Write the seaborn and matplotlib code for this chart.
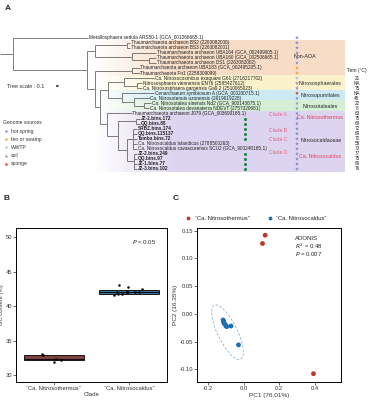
import numpy as np
import pandas as pd
import matplotlib
matplotlib.use("Agg")
import matplotlib.pyplot as plt
import seaborn as sns
from matplotlib.patches import Ellipse
from matplotlib.collections import LineCollection

sns.set_theme(style="white")
plt.rcParams['font.family'] = ['Liberation Sans', 'DejaVu Sans']

# ---------------- data: panel A (tree) ----------------
leaf_labels = [
    "Metallosphaera sedula ARS50-1 (GCA_001266665.1)",
    "Thaumarchaeota archaeon BS2 (2263082000)",
    "Thaumarchaeota archaeon BS3 (2263082001)",
    "Thaumarchaeota archaeon UBA164 (GCA_002499005.1)",
    "Thaumarchaeota archaeon UBA160 (GCA_002506665.1)",
    "Thaumarchaeota archaeon DS1 (2263082002)",
    "Thaumarchaeota archaeon UBA183 (GCA_002495205.1)",
    "Thaumarchaeota Fn1 (2258309099)",
    "Ca. Nitrosocosmicus exaquare G61 (2718217702)",
    "Nitrososphaera viennensis EN76 (2585427612)",
    "Ca. Nitrososphaera gargensis Ga9.2 (2510065023)",
    "Cenarchaeum symbiosum A (GCA_000200715.1)",
    "Ca. Nitrosotenuis uzonensis (2619619228)",
    "Ca. Nitrosotalea sinensis Nd2 (GCA_900143675.1)",
    "Ca. Nitrosotalea devanaterra NDEVT (2757320681)",
    "Thaumarchaeota archaeon J079 (GCA_003690165.1)",
    "JZ-2.bins.172",
    "QQ.bins.88",
    "SRBZ.bins.174",
    "QQ.bins.115137",
    "Tumba.bins.72",
    "Ca. Nitrosocaldus islandicus (2788500263)",
    "Ca. Nitrosocaldus cavascurensis SCU2 (GCA_900248165.1)",
    "JZ-2.bins.249",
    "QQ.bins.97",
    "JZ-1.bins.77",
    "JZ-3.bins.102",
]
leaf_bold = [False]*16 + [True]*5 + [False]*2 + [True]*4
genome_source = (["hot spring"]*6 + ["fen or swamp"]*2 +
                 ["WWTP", "soil", "hot spring", "sponge", "hot spring", "soil", "soil"] +
                 ["hot spring"]*12)
this_study = [False]*16 + [True]*5 + [False]*2 + [True]*4
temperature = [""]*8 + ["21", "NA", "75", "NA", "45", "22", "8",
                        "63", "75", "69", "72", "69", "72", "55", "73", "77", "75", "69", "76"]

# tree: (branch length, leaf index | [children])
tree = (0.16, [
    (0.94, 0),
    (0.925, [
        (0.10, [
            (0.40, [(0.04, 1), (0.04, 2)]),
            (0.46, [(0.31, 3), (0.22, [(0.09, 4), (0.09, 5)])]),
        ]),
        (0.10, [
            (0.46, [(0.10, 6), (0.10, 7)]),
            (0.06, [
                (0.10, [
                    (0.21, [(0.375, 8), (0.16, [(0.06, 9), (0.06, 10)])]),
                    (0.175, [(0.41, 11), (0.16, [(0.19, 12), (0.12, [(0.09, 13), (0.06, 14)])])]),
                ]),
                (0.09, [
                    (0.31, 15),
                    (0.14, [
                        (0.22, [(0.06, 16), (0.06, 17)]),
                        (0.11, [
                            (0.075, [(0.05, 18), (0.05, 19), (0.05, 20), (0.05, 21), (0.05, 22)]),
                            (0.09, [(0.04, 23), (0.04, 24), (0.04, 25), (0.04, 26)]),
                        ]),
                    ]),
                ]),
            ]),
        ]),
    ]),
])

order_rows = [(1, 7), (8, 10), (11, 12), (13, 14), (15, 26)]
order_colors = ["#f7dcc6", "#fbf2cc", "#cdeaf4", "#d5efd5", "#ddd4f0"]
source_names = ["hot spring", "fen or swamp", "WWTP", "soil", "sponge"]
source_colors = ["#7f8ccc", "#f2a03e", "#9fc6de", "#a093b8", "#d8342c"]

# ---------------- data: panel B ----------------
clades = ["\u201cCa. Nitrosothermus\u201d", "\u201cCa. Nitrosocaldus\u201d"]
gc_nitrosothermus = [31.9, 32.2, 32.4, 32.9, 33.1]
gc_nitrosocaldus = [41.6, 41.7, 41.7, 41.9, 42.0, 42.0, 42.1, 42.2, 42.4, 42.8, 43.0]
box_colors = ["#8a3535", "#2d6ea6"]

# ---------------- data: panel C ----------------
pc1_thermus = [0.121, 0.106, 0.391]
pc2_thermus = [0.142, 0.127, -0.108]
pc1_caldus = [-0.114, -0.112, -0.110, -0.106, -0.102, -0.098, -0.093, -0.070, -0.028]
pc2_caldus = [-0.011, -0.013, -0.016, -0.018, -0.019, -0.022, -0.023, -0.022, -0.056]
pt_colors = ["#b73a2e", "#1f6db3"]

# ---------------- figure ----------------
fig = plt.figure(figsize=(3.69, 4.0), dpi=100)

# ===== Panel A =====
axA = fig.add_axes([0, 0.5, 1, 0.5])
axA.set_xlim(0, 369)
axA.set_ylim(200, 0)
axA.axis("off")

PX = 80.0
ROW0, ROWH = 37.7, 5.05
def row_y(i):
    return ROW0 + i * ROWH

segments, leaf_x, nodes = [], {}, []
def layout(node, xp):
    length, content = node
    x = xp + length * PX
    if isinstance(content, int):
        y = row_y(content)
        leaf_x[content] = x
    else:
        ys = [layout(c, x) for c in content]
        y = (ys[0] + ys[-1]) / 2
        segments.append([(x, ys[0]), (x, ys[-1])])
        nodes.append((x, y))
    segments.append([(xp, y), (x, y)])
    return y
layout(tree, 0.0)

# background bands with gradient
for (r0, r1), col in zip(order_rows, order_colors):
    rgb = matplotlib.colors.to_rgb(col)
    xs = np.linspace(95, 345, 250)
    alpha = np.clip((xs - 95) / 80.0, 0, 1)
    img = np.zeros((1, len(xs), 4))
    img[0, :, :3] = rgb
    img[0, :, 3] = alpha
    axA.imshow(img, extent=(95, 345, row_y(r1) + ROWH/2, row_y(r0) - ROWH/2),
               aspect="auto", zorder=0, interpolation="bilinear")

axA.add_collection(LineCollection(segments, colors="#4a4a4a", linewidths=0.5, zorder=2))
nx, ny = zip(*nodes)
axA.scatter(nx, ny, s=0.6, color="#888888", zorder=3, linewidths=0)

for i, lab in enumerate(leaf_labels):
    axA.text(leaf_x[i] + 0.8, row_y(i), lab, fontsize=3.4, va="center", ha="left",
             fontweight="bold" if leaf_bold[i] else "normal", color="#222222", zorder=4)

# genome source stars
src_df = pd.DataFrame({"x": [297]*len(leaf_labels),
                       "y": [row_y(i) for i in range(len(leaf_labels))],
                       "source": genome_source})
sns.scatterplot(data=src_df, x="x", y="y", hue="source", hue_order=source_names,
                palette=source_colors, marker="*", s=9, linewidth=0, legend=False, ax=axA, zorder=5)
# genomes of this study
st_df = pd.DataFrame({"x": [245]*sum(this_study),
                      "y": [row_y(i) for i in range(len(leaf_labels)) if this_study[i]]})
sns.scatterplot(data=st_df, x="x", y="y", color="#1e8a4a", s=5, linewidth=0, legend=False, ax=axA, zorder=5)
axA.set_xlabel(""); axA.set_ylabel("")

# temperatures
axA.text(357, 70.5, "Tem (\u00b0C)", fontsize=3.6, ha="center", va="center")
for i, t in enumerate(temperature):
    if t:
        axA.text(357, row_y(i), t, fontsize=3.3, ha="center", va="center")

# order labels
red = "#e23e5a"
axA.text(305, 57, "Non-AOA", fontsize=3.8, ha="center", va="center")
axA.text(320, 84, "Nitrososphaerales", fontsize=3.8, ha="center", va="center")
axA.text(320, 96, "Nitrosopumilales", fontsize=3.8, ha="center", va="center")
axA.text(320, 106.5, "Nitrosotaleales", fontsize=3.8, ha="center", va="center")
axA.text(320, 117.5, "Ca. Nitrosothermus", fontsize=3.8, ha="center", va="center", color=red)
axA.text(321, 141, "Nitrosocaldaceae", fontsize=3.8, ha="center", va="center")
axA.text(320, 157, "Ca. Nitrosocaldus", fontsize=3.8, ha="center", va="center", color=red)
for lab, yy in zip(["Clade A", "Clade B", "Clade C", "Clade D"], [115, 131, 139.5, 152.5]):
    axA.text(278, yy, lab, fontsize=3.6, ha="center", va="center", color="#e8607a")

# tree scale
axA.text(7, 86, "Tree scale : 0.1", fontsize=4.0, ha="left", va="center", color="#333333")
axA.annotate("", xy=(54 + 0.1 * PX, 86), xytext=(54, 86),
             arrowprops=dict(arrowstyle="-|>", lw=0.5, color="#333333", mutation_scale=3))

# genome source legend
axA.text(3, 122, "Genome sources", fontsize=3.6, ha="left", va="center", color="#333333")
for k, (nm, col) in enumerate(zip(source_names, source_colors)):
    yy = 131 + k * 8.2
    axA.scatter([5.5], [yy], marker="*", s=9, color=col, linewidths=0)
    axA.text(11, yy, nm, fontsize=3.6, ha="left", va="center", color="#333333")

fig.text(5/369, 1 - 8/400, "A", fontsize=6, fontweight="bold", ha="left", va="center")
fig.text(3/369, 1 - 198/400, "B", fontsize=6, fontweight="bold", ha="left", va="center")
fig.text(173/369, 1 - 198/400, "C", fontsize=6, fontweight="bold", ha="left", va="center")

# ===== Panel B =====
axB = fig.add_axes([16/369, 18/400, 151/369, 154/400])
dfB = pd.DataFrame({"Clade": [clades[0]]*len(gc_nitrosothermus) + [clades[1]]*len(gc_nitrosocaldus),
                    "GC": gc_nitrosothermus + gc_nitrosocaldus})
sns.boxplot(data=dfB, x="Clade", y="GC", hue="Clade", order=clades, hue_order=clades,
            palette=box_colors, width=0.8, linewidth=0.6, linecolor="black",
            fliersize=0, whis=0, showcaps=False, legend=False, ax=axB)
sns.stripplot(data=dfB, x="Clade", y="GC", order=clades, color="black", size=1.8,
              jitter=0.2, ax=axB, zorder=5)
axB.set_ylim(29.0, 51.3)
axB.set_yticks([30, 35, 40, 45, 50])
axB.set_xlabel("Clade", fontsize=4.4, labelpad=1.0, color="#333333")
axB.set_ylabel("GC content (%)", fontsize=4.2, labelpad=0.8, color="#333333")
axB.text(0.93, 0.91, "$P$ < 0.05", transform=axB.transAxes, fontsize=4.4, ha="right", va="center")

# ===== Panel C =====
axC = fig.add_axes([197/369, 18/400, 144/369, 154/400])
dfC = pd.DataFrame({"PC1": pc1_thermus + pc1_caldus, "PC2": pc2_thermus + pc2_caldus,
                    "group": [clades[0]]*len(pc1_thermus) + [clades[1]]*len(pc1_caldus)})
sns.scatterplot(data=dfC, x="PC1", y="PC2", hue="group", hue_order=clades, palette=pt_colors,
                s=12, linewidth=0, ax=axC)
# confidence ellipse of "Ca. Nitrosocaldus"
pts = np.column_stack([pc1_caldus, pc2_caldus])
mu = pts.mean(axis=0)
cov = np.cov(pts, rowvar=False)
vals, vecs = np.linalg.eigh(cov)
ang = np.degrees(np.arctan2(vecs[1, 1], vecs[0, 1]))
k = np.sqrt(5.991) * 1.3
axC.add_patch(Ellipse((mu[0] + 0.003, mu[1] - 0.011), 2 * k * np.sqrt(vals[1]), 2 * k * np.sqrt(vals[0]) * 2.5,
                      angle=ang, fill=False, ls=(0, (3, 2)), lw=0.6, ec="#8fb0cf"))
axC.set_xlim(-0.26, 0.545)
axC.set_ylim(-0.123, 0.155)
axC.set_xticks([-0.2, 0.0, 0.2, 0.4])
axC.set_yticks([-0.10, -0.05, 0.0, 0.05, 0.10, 0.15])
axC.set_xticklabels(["-0.2", "0.0", "0.2", "0.4"])
axC.set_yticklabels(["-0.10", "-0.05", "0.00", "0.05", "0.10", "0.15"])
axC.set_xlabel("PC1 (76.01%)", fontsize=4.6, labelpad=1.5, color="#333333")
axC.set_ylabel("PC2 (16.35%)", fontsize=4.6, labelpad=1.0, color="#333333")
axC.text(0.68, 0.93, "ADONIS", transform=axC.transAxes, fontsize=4.3, ha="left", va="center")
axC.text(0.68, 0.88, "$R^2$ = 0.48", transform=axC.transAxes, fontsize=4.3, ha="left", va="center")
axC.text(0.68, 0.83, "$P$ = 0.007", transform=axC.transAxes, fontsize=4.3, ha="left", va="center")
sns.move_legend(axC, "lower center", bbox_to_anchor=(0.4, 1.03), ncol=2, frameon=False,
                title=None, fontsize=4.2, handletextpad=0.1, columnspacing=2.5, markerscale=0.8,
                borderaxespad=0)

for ax in (axB, axC):
    for s in ax.spines.values():
        s.set_color("black")
        s.set_linewidth(0.7)
    ax.tick_params(axis="both", labelsize=4.2, length=2, width=0.5, pad=0.8, colors="#333333",
                   bottom=True, left=True)

fig.savefig("out.png", dpi=100)
